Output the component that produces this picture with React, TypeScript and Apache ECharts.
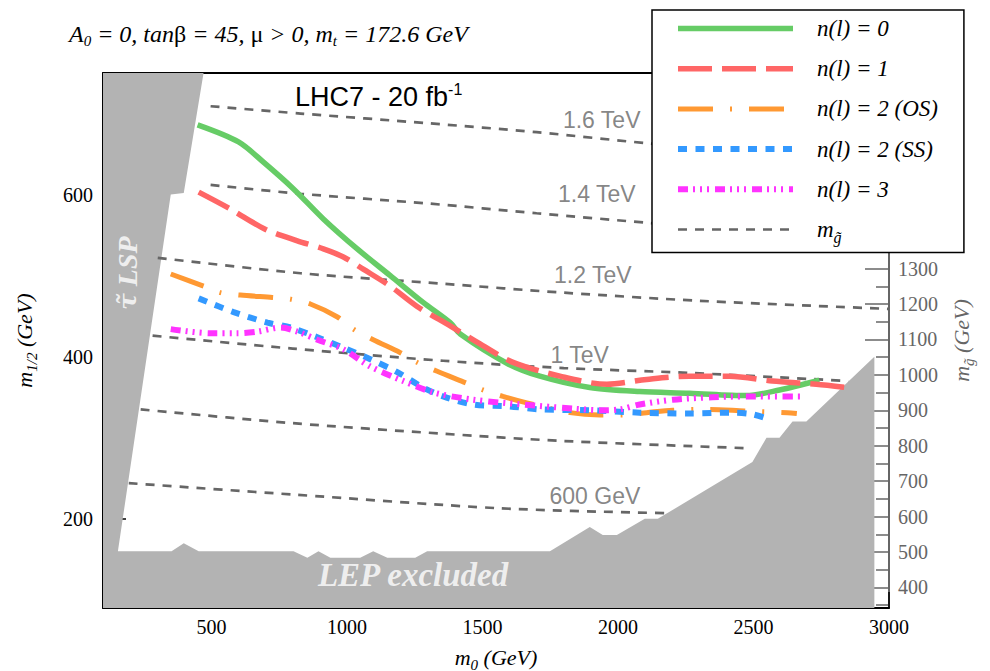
import React, { useEffect, useRef } from 'react';
import * as echarts from 'echarts';

// ---- axis ranges & ticks ----
const m0Range = [100, 3000];
const m12Range = [90, 750];
const gluinoRange = [342, 1852];
const xMajorTicks = [500, 1000, 1500, 2000, 2500, 3000];
const xMinorTicks = [250, 750, 1250, 1750, 2250, 2750];
const yMajorTicks = [200, 400, 600];
const yMinorTicks = [100, 300, 500, 700];
const gluinoMajorTicks = [400, 500, 600, 700, 800, 900, 1000, 1100, 1200, 1300];
const gluinoMinorTicks = [350, 450, 550, 650, 750, 850, 950, 1050, 1150, 1250];

// ---- reach curves (m0, m1/2) ----
const nl0 = [[449, 686], [600, 665], [692, 640], [803, 607], [913, 570], [1038, 533], [1160, 500], [1281, 467], [1381, 442], [1418, 428], [1590, 392], [1712, 376], [1896, 362], [2080, 357], [2264, 355], [2474, 352], [2596, 359], [2743, 371]];
const nl1 = [[453, 603], [571, 582], [700, 557], [817, 543], [913, 533], [987, 523], [1060, 508], [1160, 487], [1259, 462], [1381, 438], [1500, 414], [1613, 393], [1786, 376], [1959, 366], [2106, 372], [2264, 376], [2412, 376], [2570, 370], [2732, 366], [2843, 362]];
const nl2OS = [[350, 502], [471, 487], [534, 479], [607, 476], [725, 473], [792, 471], [865, 465], [965, 449], [1024, 434], [1097, 421], [1197, 405], [1259, 393], [1333, 382], [1429, 369], [1502, 359], [1576, 351], [1664, 343], [1823, 331], [1933, 328], [2014, 328], [2106, 331], [2202, 334], [2338, 335], [2467, 333], [2625, 331], [2660, 330]];
const nl2SS = [[453, 472], [582, 455], [707, 442], [792, 436], [891, 424], [987, 411], [1086, 397], [1186, 381], [1281, 362], [1355, 351], [1466, 341], [1590, 339], [1712, 335], [1896, 334], [2080, 331], [2264, 330], [2423, 331], [2496, 329], [2566, 322]];
const nl3 = [[350, 434], [497, 429], [596, 429], [670, 431], [755, 436], [817, 431], [891, 421], [987, 409], [1086, 388], [1208, 370], [1318, 356], [1466, 347], [1650, 341], [1834, 336], [1933, 334], [2007, 335], [2080, 341], [2202, 347], [2349, 350], [2474, 351], [2596, 351], [2688, 351]];

// ---- gluino mass contours ----
const contour1600 = [[497, 709], [829, 700], [1300, 688], [1700, 677], [2117, 663], [2500, 652], [3000, 640]];
const contour1400 = [[497, 612], [829, 601], [1300, 589], [1700, 577], [2117, 565], [2500, 555], [3000, 543]];
const contour1200 = [[302, 522], [829, 503], [1355, 490], [1800, 479], [2301, 469], [3000, 459]];
const contour1000 = [[283, 426], [800, 410], [1355, 395], [1800, 386], [2264, 380], [2850, 370]];
const contour800 = [[239, 335], [800, 318], [1355, 305], [1800, 296], [2490, 287]];
const contour600 = [[195, 244], [800, 230], [1565, 213], [2172, 207]];
const contourLabels = [[1940, 692, '1.6 TeV'], [1922, 601, '1.4 TeV'], [1907, 501, '1.2 TeV'], [1859, 402, '1 TeV'], [1915, 228, '600 GeV']];

// ---- excluded regions (stau LSP + LEP) ----
const excludedRegion = [[100, 750], [471, 750], [398, 602], [350, 600], [155, 160], [353, 160], [398, 170], [453, 160], [803, 160], [854, 152], [895, 160], [939, 152], [1049, 152], [1097, 160], [1149, 152], [1252, 152], [1296, 160], [1749, 160], [1896, 190], [1944, 180], [1996, 180], [2099, 200], [2147, 200], [2496, 270], [2548, 300], [2596, 300], [2644, 320], [2695, 320], [2946, 400], [2946, 90], [100, 90]];
const staulspLabel = [[191, 503, 'τ̃ LSP']];
const lepLabel = [[1244, 131, 'LEP excluded']];

const SERIF = 'Liberation Serif';
const SANS = 'Liberation Sans';

const names = ['n(l) = 0', 'n(l) = 1', 'n(l) = 2 (OS)', 'n(l) = 2 (SS)', 'n(l) = 3', 'mg'];

function App() {
  const ref = useRef<HTMLDivElement>(null);
  useEffect(() => {
    const chart = echarts.init(ref.current!, null, { renderer: 'svg' });
    const contourStyle = { color: '#666666', width: 2.7, type: [9, 8] as any };
    const contourSeries = [contour1600, contour1400, contour1200, contour1000, contour800, contour600].map((d) => ({
      type: 'line', name: 'mg', data: d, symbol: 'none', smooth: 0.3, z: 3,
      lineStyle: contourStyle, itemStyle: { color: '#666666' }, silent: true,
    }));
    const curve = (name: string, data: number[][], color: string, width: number, type: any) => ({
      type: 'line', name, data, symbol: 'none', smooth: 0.3, z: 4,
      lineStyle: { color, width, type, cap: 'butt' }, itemStyle: { color }, silent: true,
    });
    const it = (size: number, color: string) => ({ fontFamily: SERIF, fontStyle: 'italic', fontWeight: 'normal', fontSize: size, color });
    const sub = (color: string) => ({ fontFamily: SERIF, fontStyle: 'italic', fontWeight: 'normal', fontSize: 15, padding: [14, 0, 0, 0], color });
    const option: any = {
      animation: false,
      backgroundColor: '#fff',
      textStyle: { fontFamily: SERIF },
      title: [
        {
          text: '{i|A}{sub|0}{i| = 0, tan}{n|β}{i| = 45, }{n|μ}{i| > 0, m}{sub|t}{i| = 172.6 GeV}',
          left: 64, top: 14,
          textStyle: {
            fontWeight: 'normal',
            rich: {
              i: it(24, '#000'),
              n: { fontFamily: SERIF, fontWeight: 'normal', fontSize: 24, color: '#000' },
              sub: sub('#000'),
            },
          },
        },
        {
          text: '{t|LHC7 - 20 fb}{sup|-1}',
          left: 290, top: 76,
          textStyle: {
            fontWeight: 'normal',
            rich: {
              t: { fontFamily: SANS, fontWeight: 'normal', fontSize: 27, color: '#000' },
              sup: { fontFamily: SANS, fontWeight: 'normal', fontSize: 16, color: '#000', padding: [0, 0, 15, 0] },
            },
          },
        },
      ],
      legend: {
        orient: 'vertical',
        left: 652, top: 10,
        backgroundColor: '#fff',
        borderColor: '#000', borderWidth: 1.5, borderRadius: 0,
        padding: [7, 26, 7, 23],
        itemWidth: 115, itemHeight: 14, itemGap: 17.2,
        data: names,
        itemStyle: { opacity: 0 },
        lineStyle: { width: 'inherit' },
        formatter: (n: string) => (n === 'mg' ? '{gap| }{i|m}{sub|g̃}' : '{gap| }{i|' + n + '}'),
        textStyle: {
          rich: {
            gap: { width: 19, fontSize: 10 },
            i: { ...it(23, '#000'), lineHeight: 26 },
            sub: { ...it(16, '#000'), padding: [16, 0, 0, 0] },
          },
        },
      },
      grid: { left: 103, right: 101, top: 73, bottom: 63, containLabel: false, outerBoundsMode: 'none' },
      xAxis: [
        {
          type: 'value', min: m0Range[0], max: m0Range[1], position: 'bottom',
          splitLine: { show: false },
          axisLine: { show: true, lineStyle: { color: '#000', width: 2 } },
          axisTick: { show: true, inside: true, length: 16, customValues: xMajorTicks, lineStyle: { color: '#000', width: 1.5 } },
          axisLabel: { customValues: xMajorTicks, formatter: (v: number) => String(v), fontFamily: SERIF, fontSize: 20, color: '#000', margin: 9 },
          name: '{i|m}{sub|0}{i| (GeV)}', nameLocation: 'middle', nameGap: 35,
          nameTextStyle: { rich: { i: it(22, '#000'), sub: sub('#000') } },
        },
        {
          type: 'value', min: m0Range[0], max: m0Range[1], position: 'bottom',
          splitLine: { show: false }, axisLine: { show: false }, axisLabel: { show: false },
          axisTick: { show: true, inside: true, length: 8, customValues: xMinorTicks, lineStyle: { color: '#000', width: 1.5 } },
        },
        {
          type: 'value', min: m0Range[0], max: m0Range[1], position: 'top',
          splitLine: { show: false }, axisLabel: { show: false }, axisTick: { show: false },
          axisLine: { show: true, lineStyle: { color: '#000', width: 2 } },
        },
      ],
      yAxis: [
        {
          type: 'value', min: m12Range[0], max: m12Range[1], position: 'left',
          splitLine: { show: false },
          axisLine: { show: true, lineStyle: { color: '#000', width: 2 } },
          axisTick: { show: true, inside: true, length: 23, customValues: yMajorTicks, lineStyle: { color: '#000', width: 1.5 } },
          axisLabel: { customValues: yMajorTicks, formatter: (v: number) => String(v), fontFamily: SERIF, fontSize: 20, color: '#000', margin: 10 },
          name: '{i|m}{sub|1/2}{i| (GeV)}', nameLocation: 'middle', nameGap: 64, nameRotate: 90,
          nameTextStyle: { rich: { i: it(22, '#000'), sub: sub('#000') } },
        },
        {
          type: 'value', min: m12Range[0], max: m12Range[1], position: 'left',
          splitLine: { show: false }, axisLine: { show: false }, axisLabel: { show: false },
          axisTick: { show: true, inside: true, length: 12, customValues: yMinorTicks, lineStyle: { color: '#000', width: 1.5 } },
        },
        {
          type: 'value', min: gluinoRange[0], max: gluinoRange[1], position: 'right',
          splitLine: { show: false },
          axisLine: { show: true, lineStyle: { color: '#666', width: 2 } },
          axisTick: { show: true, inside: true, length: 24, customValues: gluinoMajorTicks, lineStyle: { color: '#666', width: 1.5 } },
          axisLabel: { customValues: gluinoMajorTicks, formatter: (v: number) => String(v), fontFamily: SERIF, fontSize: 20, color: '#666', margin: 9 },
          name: '{i|m}{sub|g̃}{i| (GeV)}', nameLocation: 'middle', nameGap: 58, nameRotate: 90,
          nameTextStyle: { rich: { i: it(22, '#666'), sub: sub('#666') } },
        },
        {
          type: 'value', min: gluinoRange[0], max: gluinoRange[1], position: 'right',
          splitLine: { show: false }, axisLine: { show: false }, axisLabel: { show: false },
          axisTick: { show: true, inside: true, length: 13, customValues: gluinoMinorTicks, lineStyle: { color: '#666', width: 1.5 } },
        },
      ],
      series: [
        {
          type: 'custom', name: 'excluded', silent: true, z: 1,
          data: [[m0Range[0], m12Range[0]]],
          renderItem: (_p: any, api: any) => ({
            type: 'polygon',
            shape: { points: excludedRegion.map((p) => api.coord(p)) },
            style: { fill: '#b3b3b3' },
          }),
        },
        ...contourSeries,
        curve(names[0], nl0, '#66cc66', 5.5, 'solid'),
        curve(names[1], nl1, '#ff6666', 5.5, [34, 10]),
        curve(names[2], nl2OS, '#ff9933', 5, [35, 17, 2, 17]),
        curve(names[3], nl2SS, '#3399ff', 6, [9, 8.5]),
        curve(names[4], nl3, '#ff33ff', 6, [10, 5, 2, 5, 2, 5, 2, 6]),
        {
          type: 'scatter', name: 'contourLabels', data: contourLabels, symbolSize: 1, silent: true, z: 5,
          itemStyle: { color: 'transparent' },
          label: { show: true, position: 'inside', formatter: (p: any) => p.data[2], fontFamily: SANS, fontSize: 23, color: '#666' },
        },
        {
          type: 'scatter', name: 'lsp', data: staulspLabel, symbolSize: 1, silent: true, z: 5,
          itemStyle: { color: 'transparent' },
          label: {
            show: true, position: 'inside', rotate: 90,
            formatter: (p: any) => {
              const s = String(p.data[2]);
              const k = s.indexOf(' ');
              return '{t|' + s.slice(0, k) + '}{s|' + s.slice(k) + '}';
            },
            rich: {
              t: { fontFamily: 'DejaVu Serif', fontStyle: 'italic', fontWeight: 'bold', fontSize: 25, color: '#fff' },
              s: { fontFamily: SERIF, fontStyle: 'italic', fontWeight: 'bold', fontSize: 28, color: '#fff' },
            },
          },
        },
        {
          type: 'scatter', name: 'lep', data: lepLabel, symbolSize: 1, silent: true, z: 5,
          itemStyle: { color: 'transparent' },
          label: { show: true, position: 'inside', formatter: (p: any) => p.data[2], fontFamily: SERIF, fontStyle: 'italic', fontWeight: 'bold', fontSize: 33, color: '#fff' },
        },
      ],
    };
    chart.setOption(option);
    return () => chart.dispose();
  }, []);
  return <div ref={ref} style={{ position: 'fixed', left: 0, top: 0, width: 990, height: 671, background: '#fff' }} />;
}

export default App;
